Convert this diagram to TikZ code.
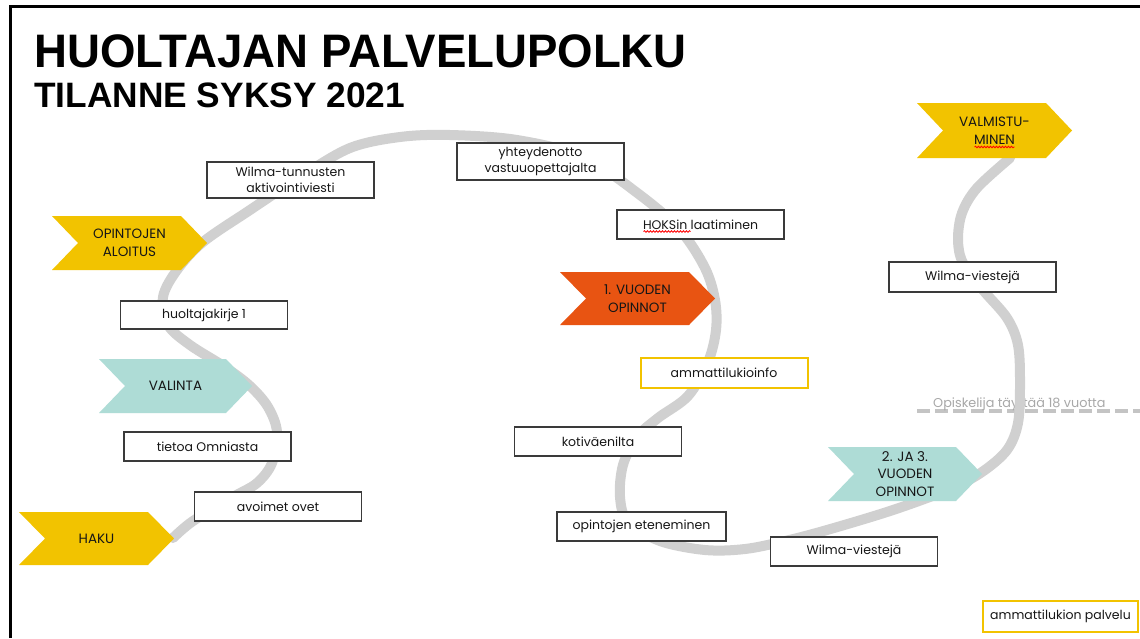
\documentclass[tikz,border=0pt]{standalone}
\usepackage{fontspec}
\setmainfont{Poppins}
\newfontfamily\titlefont{Liberation Sans}
\usetikzlibrary{calc,decorations.pathmorphing}
\definecolor{cyel}{HTML}{F2C300}
\definecolor{corange}{HTML}{E85412}
\definecolor{cteal}{HTML}{AEDCD6}
\definecolor{cpath}{HTML}{D0D0D0}
\definecolor{cbox}{HTML}{3A3A3A}
\definecolor{ctext}{HTML}{161616}
\definecolor{cdash}{HTML}{C4C4C4}
\definecolor{cnote}{HTML}{A8A8A8}
\newcommand\boxfont{\fontsize{12.5}{16}\selectfont}
\tikzset{
  box/.style={draw=cbox, line width=1.2pt, fill=white, inner sep=0pt, align=center,
    text=ctext, font=\boxfont, minimum width=167pt, minimum height=29pt},
  ybox/.style={box, draw=cyel, line width=2pt},
  chevtext/.style={inner sep=0pt, align=center, text=ctext, font=\fontsize{13.5}{17.5}\selectfont},
  road/.style={draw=cpath, line width=10pt, line cap=round, line join=round},
  spell/.style={draw=red, line width=0.8pt, decorate, decoration={snake, amplitude=0.8pt, segment length=3pt}},
}
\newcommand\chevron[7]{%
  \fill[#6] (#2,#4) -- (#3-26,#4) -- (#3,{(#4+#5)/2}) -- (#3-26,#5) -- (#2,#5) -- (#2+26,{(#4+#5)/2}) -- cycle;
  \node[chevtext] (#1) at ({(#2+#3)/2},{(#4+#5)/2}) {#7};}
\begin{document}
\begin{tikzpicture}[x=1pt,y=-1pt]
\useasboundingbox (0,0) rectangle (1140,638);
\fill[white] (0,0) rectangle (1140,638);
% frame
\draw[black, line width=3pt] (10,638) -- (10,6) -- (1140,6);
% titles
\node[anchor=base west, inner sep=0pt, xscale=0.97, transform shape, font=\titlefont\bfseries\fontsize{47}{47}\selectfont] (title) at (34,67) {HUOLTAJAN PALVELUPOLKU};
\node[anchor=base west, inner sep=0pt, font=\titlefont\bfseries\fontsize{35.3}{35.3}\selectfont] (subtitle) at (34,107) {TILANNE SYKSY 2021};
% age line
\coordinate (dashL) at (917,411);
\coordinate (dashR) at (1140,411);
\draw[cdash, line width=3.5pt, dash pattern=on 13pt off 5pt] (dashL) -- (dashR);
\node[anchor=base west, inner sep=0pt, text=cnote, font=\fontsize{12.8}{15}\selectfont] (age) at (933,407) {Opiskelija täyttää 18 vuotta};
% road
\draw[road] plot[smooth, tension=0.55] coordinates {
(173,538) (193,521) (233,497) (257,483) (272,463) (277,432) (268,407) (250,386)
(225,367) (190,345) (168,325) (163,297) (177,270) (203,242) (250,210) (300,177)
(350,148) (400,137) (450,135) (517,140) (583,157) (640,195) (680,230) (705,268)
(715,300) (716,330) (708,362) (688,396) (658,418) (637,437) (623,465) (620,497)
(628,522) (660,541) (705,550) (745,549) (785,541) (827,530) (893,510) (950,489)
(982,472) (1007,450) (1018,423) (1020,383) (1018,345) (1007,318) (983,290) (963,263)
(958,240) (962,213) (977,188) (1010,158)};
% chevrons
\chevron{opi}{52}{207}{216}{270}{cyel}{OPINTOJEN\\ALOITUS}
\chevron{val}{99}{252}{359}{413}{cteal}{VALINTA}
\chevron{haku}{19}{174}{512}{565}{cyel}{HAKU}
\chevron{v1}{560}{715}{272}{325}{corange}{1. VUODEN\\OPINNOT}
\chevron{valm}{917}{1072}{103}{158}{cyel}{VALMISTU-\\MINEN}
\chevron{v23}{828}{982}{447}{501}{cteal}{2. JA 3.\\VUODEN\\OPINNOT}
% boxes
\node[box, minimum height=36pt] (wt) at (290.5,180) {Wilma-tunnusten\\aktivointiviesti};
\node[box, minimum height=28pt] (hk) at (204,315) {huoltajakirje 1};
\node[box] (to) at (207.5,446.5) {tietoa Omniasta};
\node[box] (ao) at (278,506.5) {avoimet ovet};
\node[box, minimum height=37pt] (yv) at (540.5,161.5) {yhteydenotto\\vastuuopettajalta};
\node[box] (hoks) at (700.5,224.5) {HOKSin laatiminen};
\node[ybox, minimum height=30pt] (ami) at (724,373) {ammattilukioinfo};
\node[box] (kv) at (598,441.5) {kotiväenilta};
\node[box, minimum width=169pt] (oe) at (641.5,526.5) {opintojen eteneminen};
\node[box] (wv1) at (854,551.5) {Wilma-viestejä};
\node[box, minimum height=30pt] (wv2) at (972.5,277) {Wilma-viestejä};
\node[ybox, minimum width=155pt, minimum height=31pt] (ap) at (1060.5,616.5) {ammattilukion palvelu};
% spell-check squiggles
\coordinate (sqA) at ($(hoks.center)+(-57,7)$);
\coordinate (sqB) at ($(hoks.center)+(-10,7)$);
\draw[spell] (sqA) -- (sqB);
\coordinate (sqC) at ($(valm.center)+(-20,16.5)$);
\coordinate (sqD) at ($(valm.center)+(20,16.5)$);
\draw[spell] (sqC) -- (sqD);
\end{tikzpicture}
\end{document}
